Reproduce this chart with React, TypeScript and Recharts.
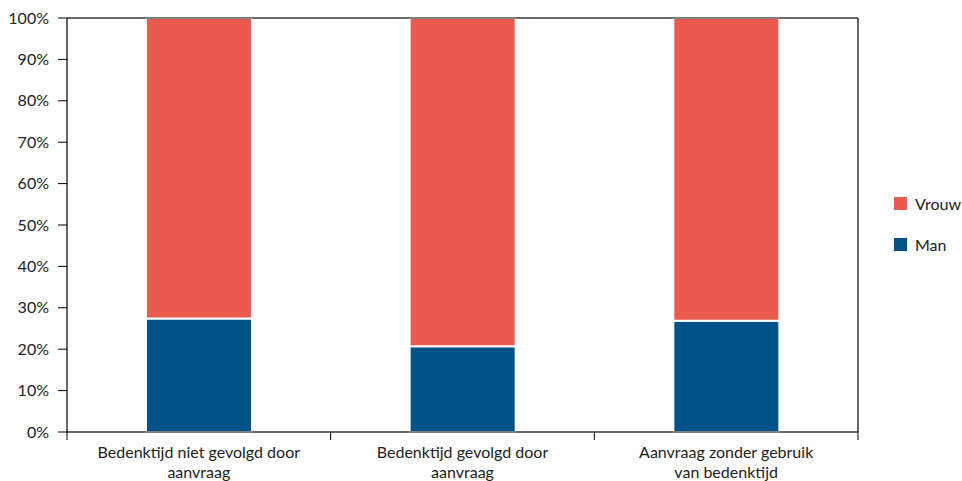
import React from "react";
import { BarChart, Bar, XAxis, YAxis, CartesianGrid, Legend, ReferenceLine } from "recharts";

const categories = [
  "Bedenktijd niet gevolgd door\naanvraag",
  "Bedenktijd gevolgd door\naanvraag",
  "Aanvraag zonder gebruik\nvan bedenktijd",
];
const manValues = [27.4, 20.7, 26.9];
const vrouwValues = [72.6, 79.3, 73.1];
const yTicks = [0, 10, 20, 30, 40, 50, 60, 70, 80, 90, 100];

const MAN = "#02528A";
const VROUW = "#EB5A4F";
const FONT = "Lato, 'Noto Sans', sans-serif";

const data = categories.map((c, i) => ({ name: c, Man: manValues[i], Vrouw: vrouwValues[i] }));

const XTick = (props: any) => {
  const { x, y, payload, index } = props;
  const off = payload.offset || 0;
  const lines = String(payload.value).split("\n");
  return (
    <g>
      <line x1={x - off} x2={x - off} y1={y - 8} y2={y} stroke="#000" strokeWidth={1} />
      {index === categories.length - 1 && (
        <line x1={x + off} x2={x + off} y1={y - 8} y2={y} stroke="#000" strokeWidth={1} />
      )}
      {lines.map((l, i) => (
        <text key={i} x={x} y={y + 18 + i * 20} textAnchor="middle" fontFamily={FONT} fontSize={16} fill="#222">
          {l}
        </text>
      ))}
    </g>
  );
};

const LegendContent = () => {
  const items = [
    { label: "Vrouw", color: VROUW },
    { label: "Man", color: MAN },
  ];
  return (
    <div style={{ paddingLeft: 35, paddingBottom: 12, fontFamily: FONT, fontSize: 16, color: "#222" }}>
      {items.map((it) => (
        <div key={it.label} style={{ display: "flex", alignItems: "center", height: 20, marginBottom: 21 }}>
          <span style={{ display: "inline-block", width: 13, height: 13, background: it.color, marginRight: 8 }} />
          <span>{it.label}</span>
        </div>
      ))}
    </div>
  );
};

export default function App() {
  return (
    <div style={{ position: "absolute", left: 0, top: 0, background: "#fff" }}>
      <BarChart
        width={962}
        height={481}
        data={data}
        margin={{ top: 18, right: 0, bottom: 0, left: 0 }}
        barSize={106}
      >
        <CartesianGrid horizontal vertical={false} stroke="#aaa" strokeWidth={1} />
        <XAxis
          dataKey="name"
          height={49}
          axisLine={{ stroke: "#000", strokeWidth: 1.2 }}
          tickLine={false}
          tick={<XTick />}
          interval={0}
        />
        <YAxis
          yAxisId="left"
          width={67}
          domain={[0, 100]}
          ticks={yTicks}
          tickFormatter={(v) => `${v}%`}
          axisLine={{ stroke: "#000", strokeWidth: 1.2 }}
          tickLine={{ stroke: "#000" }}
          tickSize={9}
          tickMargin={9}
          tick={{ fontFamily: FONT, fontSize: 16, fill: "#222" }}
          interval={0}
        />
        <YAxis
          yAxisId="right"
          orientation="right"
          width={1}
          domain={[0, 100]}
          tick={false}
          tickLine={false}
          axisLine={{ stroke: "#000", strokeWidth: 1.2 }}
        />
        <ReferenceLine yAxisId="left" y={100} stroke="#000" strokeWidth={1.2} />
        <Legend
          layout="vertical"
          align="right"
          verticalAlign="middle"
          width={103}
          content={<LegendContent />}
        />
        <Bar yAxisId="left" dataKey="Man" stackId="a" fill={MAN} stroke="#fff" strokeWidth={2} isAnimationActive={false} />
        <Bar yAxisId="left" dataKey="Vrouw" stackId="a" fill={VROUW} stroke="#fff" strokeWidth={2} isAnimationActive={false} />
      </BarChart>
    </div>
  );
}
